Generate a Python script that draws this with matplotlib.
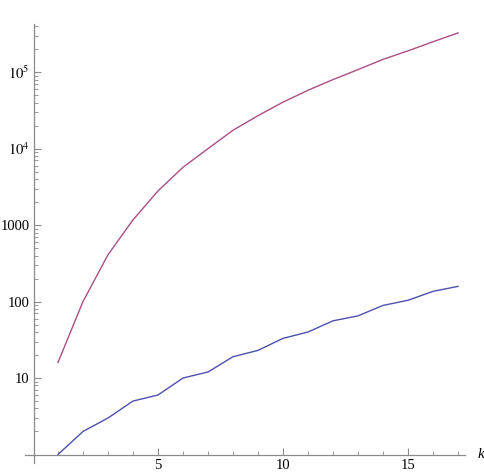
import numpy as np
import matplotlib
matplotlib.use('Agg')
import matplotlib.pyplot as plt
from matplotlib.ticker import FixedLocator, FixedFormatter, NullFormatter

k = list(range(1, 18))
lower = [1, 2, 3, 5, 6, 10, 12, 19, 23, 33, 40, 56, 65, 89, 104, 136, 158]
upper = [16, 100, 410, 1170, 2800, 5700, 10000, 17400, 27000, 40500, 58000,
         80000, 108000, 147000, 190000, 250000, 326000]

ytick_vals = [10, 100, 1000, 1e4, 1e5]
ytick_labels = ['10', '100', '1000', r'$10^4$', r'$10^5$']
xtick_vals = [5, 10, 15]

plt.rcParams['font.family'] = ['Liberation Serif', 'DejaVu Serif']
plt.rcParams['mathtext.fontset'] = 'stix'

fig = plt.figure(figsize=(4.85, 4.74), dpi=100)
ax = fig.add_axes([34/485, 19.5/474, 431/485, 430.5/474])

ax.plot(k, lower, color='#4f4fb0', lw=1.0, clip_on=False)
ax.plot(k, upper, color='#ab4d86', lw=1.0, clip_on=False)

ax.set_yscale('log')
ax.set_xlim(0.04, 17.28)
ax.set_ylim(1, 10**5.63)

for s in ['top', 'right']:
    ax.spines[s].set_visible(False)
for s in ['left', 'bottom']:
    ax.spines[s].set_color('#8a8a8a')
    ax.spines[s].set_linewidth(0.9)

ax.xaxis.set_major_locator(FixedLocator(xtick_vals))
ax.xaxis.set_minor_locator(FixedLocator([i for i in range(1, 18) if i not in xtick_vals]))
ax.yaxis.set_major_locator(FixedLocator(ytick_vals))
ax.yaxis.set_major_formatter(FixedFormatter(ytick_labels))
minor_y = [m * 10**e for e in range(0, 6) for m in range(2, 10)]
ax.yaxis.set_minor_locator(FixedLocator(minor_y))
ax.yaxis.set_minor_formatter(NullFormatter())

ax.tick_params(which='major', direction='in', length=5, width=0.8, color='#8a8a8a',
               labelsize=10.5, pad=3)
ax.tick_params(which='minor', direction='in', length=3, width=0.6, color='#8a8a8a')

# axis stubs past the origin, like the original
fig.add_artist(plt.Line2D([25/485, 34/485], [19.5/474, 19.5/474], color='#8a8a8a', lw=0.9))
fig.add_artist(plt.Line2D([34/485, 34/485], [11/474, 19.5/474], color='#8a8a8a', lw=0.9))

fig.text(478/485, 19.5/474, 'k', fontsize=11, style='italic', va='center', ha='left')

fig.savefig('out.png', dpi=100)
